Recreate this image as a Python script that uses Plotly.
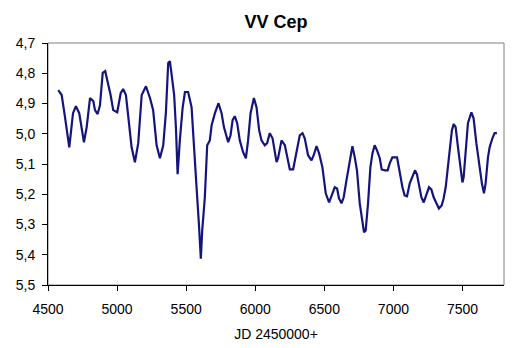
import plotly.graph_objects as go

jd = [4574, 4599, 4623, 4654, 4681, 4702, 4726, 4760, 4780, 4804, 4828, 4840, 4859, 4876,
      4896, 4914, 4924, 4953, 4972, 5001, 5026, 5044, 5064, 5088, 5105, 5129, 5153, 5178,
      5209, 5238, 5261, 5286, 5310, 5334, 5353, 5370, 5382, 5397, 5413, 5426, 5438, 5454,
      5474, 5491, 5514, 5539, 5556, 5575, 5592, 5599, 5606, 5616, 5635, 5652, 5671, 5684,
      5708, 5734, 5756, 5773, 5804, 5821, 5836, 5852, 5869, 5888, 5912, 5932, 5948, 5966,
      5990, 6009, 6028, 6045, 6069, 6086, 6105, 6125, 6141, 6154, 6165, 6190, 6214, 6230,
      6250, 6274, 6298, 6322, 6342, 6358, 6382, 6407, 6423, 6443, 6462, 6486, 6510, 6534,
      6559, 6575, 6592, 6606, 6624, 6640, 6660, 6679, 6703, 6720, 6736, 6756, 6775, 6787,
      6799, 6816, 6833, 6848, 6864, 6881, 6901, 6915, 6937, 6958, 6973, 6992, 7026, 7045,
      7065, 7081, 7098, 7118, 7137, 7156, 7170, 7190, 7202, 7219, 7238, 7257, 7274, 7291,
      7311, 7329, 7349, 7363, 7378, 7390, 7407, 7423, 7436, 7450, 7467, 7484, 7499, 7508,
      7522, 7539, 7564, 7580, 7600, 7619, 7640, 7655, 7667, 7684, 7696, 7716, 7732, 7749]

mag = [4.856, 4.872, 4.945, 5.045, 4.932, 4.909, 4.932, 5.028, 4.978, 4.882, 4.892, 4.922,
       4.935, 4.906, 4.799, 4.793, 4.813, 4.872, 4.922, 4.929, 4.866, 4.852, 4.872, 4.965,
       5.045, 5.094, 5.031, 4.872, 4.843, 4.882, 4.922, 5.038, 5.081, 5.038, 4.932, 4.766,
       4.760, 4.813, 4.872, 4.982, 5.134, 5.022, 4.915, 4.862, 4.862, 4.912, 5.055, 5.177,
       5.297, 5.343, 5.413, 5.320, 5.210, 5.038, 5.022, 4.972, 4.932, 4.899, 4.932, 4.978,
       5.028, 5.005, 4.955, 4.942, 4.965, 5.022, 5.061, 5.081, 5.022, 4.932, 4.882, 4.912,
       4.988, 5.022, 5.038, 5.031, 4.998, 5.015, 5.061, 5.094, 5.081, 5.022, 5.038, 5.078,
       5.118, 5.118, 5.055, 5.005, 4.998, 5.015, 5.071, 5.088, 5.071, 5.041, 5.065, 5.111,
       5.197, 5.227, 5.197, 5.177, 5.181, 5.214, 5.230, 5.210, 5.154, 5.098, 5.041, 5.078,
       5.121, 5.230, 5.287, 5.326, 5.320, 5.230, 5.111, 5.065, 5.038, 5.055, 5.081, 5.118,
       5.121, 5.121, 5.098, 5.078, 5.078, 5.131, 5.177, 5.204, 5.207, 5.164, 5.144, 5.121,
       5.134, 5.177, 5.210, 5.227, 5.204, 5.177, 5.184, 5.210, 5.230, 5.247, 5.237, 5.214,
       5.177, 5.131, 5.065, 4.988, 4.968, 4.978, 5.045, 5.111, 5.161, 5.144, 5.065, 4.965,
       4.929, 4.949, 5.031, 5.098, 5.164, 5.197, 5.164, 5.078, 5.045, 5.015, 4.998, 4.998]

x_ticks = [4500, 5000, 5500, 6000, 6500, 7000, 7500]
y_ticks = [4.7, 4.8, 4.9, 5.0, 5.1, 5.2, 5.3, 5.4, 5.5]
y_tick_labels = ["4,7", "4,8", "4,9", "5,0", "5,1", "5,2", "5,3", "5,4", "5,5"]

font_family = "Liberation Sans, Arial, sans-serif"

fig = go.Figure()
fig.add_trace(go.Scatter(x=jd, y=mag, mode="lines",
                         line=dict(color="#14147f", width=2.2), showlegend=False))

fig.add_shape(type="rect", xref="paper", yref="paper", x0=0, x1=1, y0=0, y1=1,
              line=dict(color="#808080", width=1), layer="below")

fig.update_layout(
    width=512, height=348,
    margin=dict(l=48, r=8, t=43, b=63),
    paper_bgcolor="white", plot_bgcolor="white",
    font=dict(family=font_family, size=14, color="black"),
    title=dict(text="<b>VV Cep</b>", x=0.5, xanchor="center", xref="paper",
               y=0.937, yanchor="middle", font=dict(size=18, family=font_family)),
    xaxis=dict(range=[4500, 7800], tickvals=x_ticks, showgrid=False, zeroline=False,
               showline=True, linecolor="black", linewidth=1, ticks="outside",
               ticklen=5, tickcolor="black", ticklabelstandoff=6,
               tickfont=dict(size=14),
               title=dict(text="JD 2450000+", standoff=13, font=dict(size=14))),
    yaxis=dict(range=[5.5, 4.7], tickvals=y_ticks, ticktext=y_tick_labels,
               showgrid=False, zeroline=False, showline=True, linecolor="black",
               linewidth=1, ticks="outside", ticklen=5, tickcolor="black",
               ticklabelstandoff=4, tickfont=dict(size=14)),
)

fig.write_html("out.html")
